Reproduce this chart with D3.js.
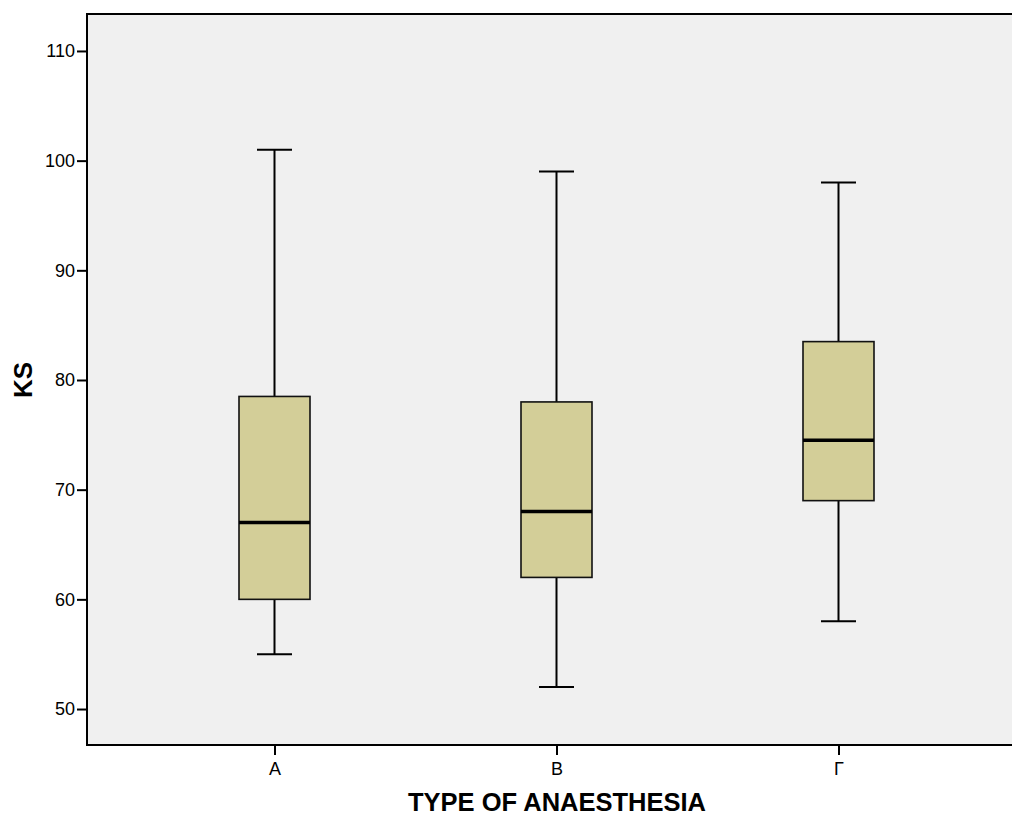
<!DOCTYPE html>
<html><head><meta charset="utf-8">
<script src="https://cdn.jsdelivr.net/npm/d3@7"></script>
<style>body{margin:0;background:#fff}svg{display:block}text{font-family:Arial,"Liberation Sans",sans-serif}</style>
</head><body>
<script>
const categories = ["A", "B", "Γ"];
const whiskerLow = [55, 52, 58];
const q1 = [60, 62, 69];
const median = [67, 68, 74.5];
const q3 = [78.5, 78, 83.5];
const whiskerHigh = [101, 99, 98];
const yTicks = [50, 60, 70, 80, 90, 100, 110];

const W = 1012, H = 818;
const L = 87, T = 14, B = 745, R = 1030;
const svg = d3.select("body").append("svg").attr("width", W).attr("height", H);

const y = d3.scaleLinear().domain([46.72, 113.37]).range([B, T]);
const x = d3.scalePoint().domain(categories).range([274.5, 838.5]);

svg.append("rect").attr("x", L).attr("y", T).attr("width", R - L).attr("height", B - T)
  .attr("fill", "#f0f0f0").attr("stroke", "#000").attr("stroke-width", 2);

const yAxis = svg.append("g").attr("transform", `translate(${L},0)`)
  .call(d3.axisLeft(y).tickValues(yTicks).tickSize(10).tickSizeOuter(0).tickPadding(2));
yAxis.select(".domain").remove();
yAxis.selectAll("line").attr("stroke-width", 2);
yAxis.selectAll("text").attr("font-size", 18).attr("fill", "#000");

const xAxis = svg.append("g").attr("transform", `translate(0,${B})`)
  .call(d3.axisBottom(x).tickSize(10).tickSizeOuter(0).tickPadding(7));
xAxis.select(".domain").remove();
xAxis.selectAll("line").attr("stroke-width", 2);
xAxis.selectAll("text").attr("font-size", 18).attr("fill", "#000");

const data = categories.map((c, i) => ({c, lo: whiskerLow[i], q1: q1[i], med: median[i], q3: q3[i], hi: whiskerHigh[i]}));
const boxW = 71, capW = 35;
const g = svg.append("g").selectAll("g").data(data).join("g");
g.append("line").attr("x1", d => x(d.c)).attr("x2", d => x(d.c))
  .attr("y1", d => y(d.hi)).attr("y2", d => y(d.lo)).attr("stroke", "#000").attr("stroke-width", 2);
g.append("line").attr("x1", d => x(d.c) - capW / 2).attr("x2", d => x(d.c) + capW / 2)
  .attr("y1", d => y(d.hi)).attr("y2", d => y(d.hi)).attr("stroke", "#000").attr("stroke-width", 2);
g.append("line").attr("x1", d => x(d.c) - capW / 2).attr("x2", d => x(d.c) + capW / 2)
  .attr("y1", d => y(d.lo)).attr("y2", d => y(d.lo)).attr("stroke", "#000").attr("stroke-width", 2);
g.append("rect").attr("x", d => x(d.c) - boxW / 2).attr("width", boxW)
  .attr("y", d => y(d.q3)).attr("height", d => y(d.q1) - y(d.q3))
  .attr("fill", "#d3ce98").attr("stroke", "#111").attr("stroke-width", 1.6);
g.append("line").attr("x1", d => x(d.c) - boxW / 2).attr("x2", d => x(d.c) + boxW / 2)
  .attr("y1", d => y(d.med)).attr("y2", d => y(d.med)).attr("stroke", "#000").attr("stroke-width", 3.5);

svg.append("text").attr("x", 557).attr("y", 811).attr("text-anchor", "middle")
  .attr("font-size", 25.5).attr("font-weight", "bold").text("TYPE OF ANAESTHESIA");
svg.append("text").attr("transform", "translate(32,380) rotate(-90)").attr("text-anchor", "middle")
  .attr("font-size", 26).attr("font-weight", "bold").text("KS");
</script>
</body></html>
